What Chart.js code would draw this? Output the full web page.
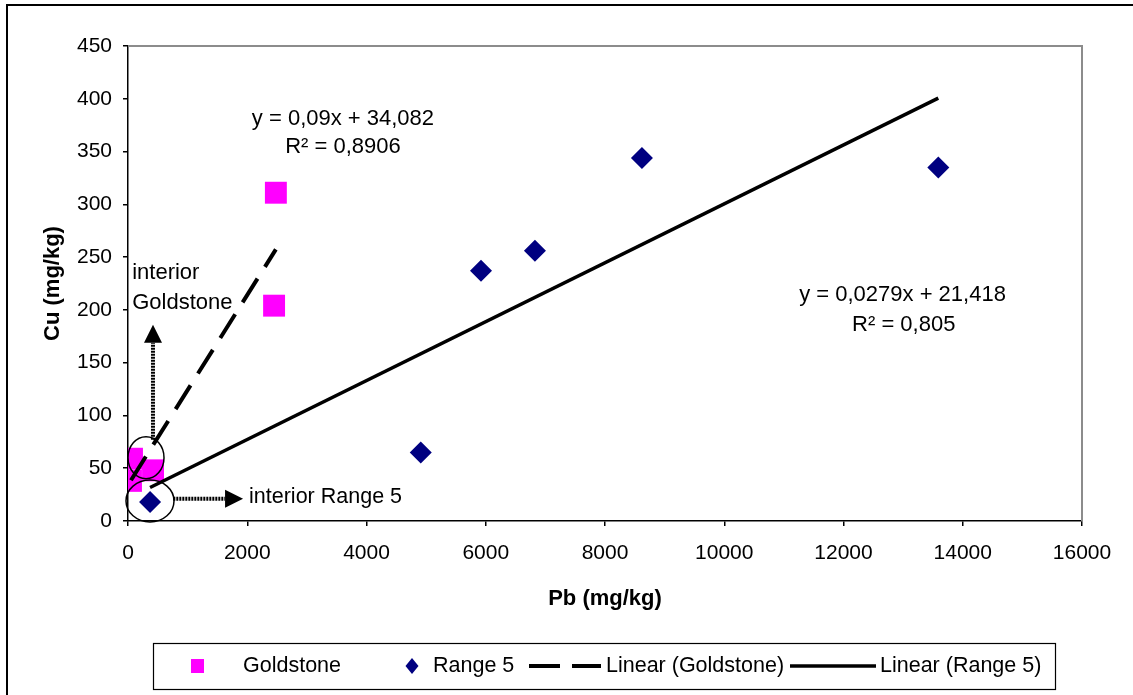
<!DOCTYPE html>
<html><head><meta charset="utf-8">
<script src="https://cdn.jsdelivr.net/npm/chart.js@4/dist/chart.umd.min.js"></script>
<style>html,body{margin:0;padding:0;background:#fff;}#wrap{width:1133px;height:695px;position:relative;}</style>
</head><body><div id="wrap"><canvas id="c" width="1133" height="695"></canvas></div>
<script>
// ---- data ----
const goldstonePb = [50, 67, 420, 2450, 2480];
const goldstoneCu = [38, 59, 48, 204, 311];
const range5Pb = [370, 4910, 5920, 6825, 8620, 13590];
const range5Cu = [18, 65, 237, 256, 344, 335];
const goldTrendPb = [50, 2480];
const goldTrendCu = [38.6, 257.3];
const rangeTrendPb = [370, 13590];
const rangeTrendCu = [31.7, 400.6];
const xTicks = [0, 2000, 4000, 6000, 8000, 10000, 12000, 14000, 16000];
const yTicks = [0, 50, 100, 150, 200, 250, 300, 350, 400, 450];
const seriesNames = ['Goldstone', 'Range 5', 'Linear (Goldstone)', 'Linear (Range 5)'];
const eqGold = ['y = 0,09x + 34,082', 'R\u00B2 = 0,8906'];
const eqRange = ['y = 0,0279x + 21,418', 'R\u00B2 = 0,805'];
const xTitle = 'Pb (mg/kg)';
const yTitle = 'Cu (mg/kg)';
const noteGold = ['interior', 'Goldstone'];
const noteRange = 'interior Range 5';

const FONT = "'Liberation Sans', Arial, sans-serif";
const pts = (xs, ys) => xs.map((x, i) => ({x: x, y: ys[i]}));

function arrow(ctx, x1, y1, x2, y2, headLen, headW) {
  const ang = Math.atan2(y2 - y1, x2 - x1);
  const bx = x2 - Math.cos(ang) * headLen, by = y2 - Math.sin(ang) * headLen;
  ctx.save();
  ctx.strokeStyle = '#000'; ctx.lineWidth = 4; ctx.setLineDash([2, 1]);
  ctx.beginPath(); ctx.moveTo(x1, y1); ctx.lineTo(bx, by); ctx.stroke();
  ctx.setLineDash([]);
  ctx.fillStyle = '#000';
  const px = -Math.sin(ang) * headW / 2, py = Math.cos(ang) * headW / 2;
  ctx.beginPath(); ctx.moveTo(x2, y2); ctx.lineTo(bx + px, by + py); ctx.lineTo(bx - px, by - py); ctx.closePath(); ctx.fill();
  ctx.restore();
}

const decor = {
  id: 'decor',
  afterDraw(chart) {
    const ctx = chart.ctx, ca = chart.chartArea;
    const sx = chart.scales.x, sy = chart.scales.y;
    const X = v => sx.getPixelForValue(v), Y = v => sy.getPixelForValue(v);
    ctx.save();
    // outer frame (cut at right/bottom)
    ctx.strokeStyle = '#000'; ctx.lineWidth = 2;
    ctx.beginPath(); ctx.moveTo(7, 695); ctx.lineTo(7, 5); ctx.lineTo(1133, 5); ctx.stroke();
    // plot area top/right border
    ctx.strokeStyle = '#8c8c8c'; ctx.lineWidth = 2;
    ctx.beginPath(); ctx.moveTo(ca.left, ca.top); ctx.lineTo(ca.right, ca.top); ctx.lineTo(ca.right, ca.bottom); ctx.stroke();

    // ellipses around interiors
    ctx.strokeStyle = '#000'; ctx.lineWidth = 1.5;
    ctx.beginPath(); ctx.ellipse(X(302), Y(60), 18, 21, 0, 0, Math.PI * 2); ctx.stroke();
    ctx.beginPath(); ctx.ellipse(X(369), Y(19), 24, 21, 0, 0, Math.PI * 2); ctx.stroke();

    // arrows
    arrow(ctx, X(419), Y(77), X(419), Y(186), 18, 18);
    arrow(ctx, X(760), Y(21), X(1930), Y(21), 18, 18);

    // texts
    ctx.fillStyle = '#000';
    ctx.font = '22px ' + FONT;
    ctx.textBaseline = 'middle';
    ctx.textAlign = 'left';
    ctx.fillText(noteGold[0], X(70), Y(235));
    ctx.fillText(noteGold[1], X(70), Y(207));
    ctx.font = '21.5px ' + FONT;
    ctx.fillText(noteRange, X(2030), Y(23));
    ctx.font = '22px ' + FONT;
    ctx.textAlign = 'center';
    ctx.fillText(eqGold[0], X(3605), Y(381));
    ctx.fillText(eqGold[1], X(3605), Y(354));
    ctx.fillText(eqRange[0], X(12990), Y(214));
    ctx.fillText(eqRange[1], X(13010), Y(186));

    // legend
    const ds = chart.data.datasets;
    ctx.strokeStyle = '#000'; ctx.lineWidth = 1.2;
    ctx.strokeRect(153.5, 643.5, 902, 46);
    const ly = 666;
    ctx.fillStyle = ds[0].backgroundColor;
    ctx.fillRect(191, ly - 7, 13, 14);
    ctx.fillStyle = ds[1].backgroundColor;
    ctx.beginPath(); ctx.moveTo(412, ly - 8); ctx.lineTo(418.5, ly); ctx.lineTo(412, ly + 8); ctx.lineTo(405.5, ly); ctx.closePath(); ctx.fill();
    ctx.strokeStyle = '#000';
    ctx.lineWidth = 4;
    ctx.beginPath(); ctx.moveTo(529, ly); ctx.lineTo(560, ly); ctx.moveTo(572, ly); ctx.lineTo(601, ly); ctx.stroke();
    ctx.lineWidth = 3.5;
    ctx.beginPath(); ctx.moveTo(790, ly); ctx.lineTo(876, ly); ctx.stroke();
    ctx.fillStyle = '#000';
    ctx.textAlign = 'left';
    ctx.font = '21.5px ' + FONT;
    ctx.fillText(seriesNames[0], 243, ly);
    ctx.fillText(seriesNames[1], 433, ly);
    ctx.fillText(seriesNames[2], 606, ly);
    ctx.fillText(seriesNames[3], 880, ly);
    ctx.restore();
  }
};

new Chart(document.getElementById('c'), {
  type: 'scatter',
  data: {
    datasets: [
      {label: seriesNames[0], data: pts(goldstonePb, goldstoneCu), pointStyle: 'rect', pointRadius: 15.5, pointHoverRadius: 15.5,
       backgroundColor: '#FF00FF', borderColor: '#FF00FF', borderWidth: 0, order: 2},
      {label: seriesNames[1], data: pts(range5Pb, range5Cu), pointStyle: 'rectRot', pointRadius: 11, pointHoverRadius: 11,
       backgroundColor: '#000080', borderColor: '#000080', borderWidth: 0, order: 2},
      {type: 'line', label: seriesNames[2], data: pts(goldTrendPb, goldTrendCu), borderColor: '#000', borderWidth: 4,
       borderDash: [28, 14], pointRadius: 0, fill: false, showLine: true, order: 1},
      {type: 'line', label: seriesNames[3], data: pts(rangeTrendPb, rangeTrendCu), borderColor: '#000', borderWidth: 3.5,
       pointRadius: 0, fill: false, showLine: true, order: 1}
    ]
  },
  options: {
    responsive: false,
    animation: false,
    events: [],
    layout: {padding: {left: 40, top: 46, right: 51, bottom: 83}},
    plugins: {legend: {display: false}, tooltip: {enabled: false}},
    scales: {
      x: {
        type: 'linear', min: 0, max: 16000,
        afterBuildTicks: s => { s.ticks = xTicks.map(v => ({value: v})); },
        afterFit: s => { s.height = 91; },
        ticks: {font: {family: FONT, size: 21}, color: '#000', padding: 15, maxRotation: 0, autoSkip: false, callback: v => String(v)},
        grid: {drawOnChartArea: false, drawTicks: true, tickLength: 5, color: '#000', lineWidth: 1.5},
        border: {color: '#000', width: 1.5},
        title: {display: true, text: xTitle, font: {family: FONT, size: 22, weight: 'bold'}, color: '#000', padding: 0}
      },
      y: {
        type: 'linear', min: 0, max: 450,
        afterBuildTicks: s => { s.ticks = yTicks.map(v => ({value: v})); },
        afterFit: s => { s.width = 88; },
        ticks: {font: {family: FONT, size: 21}, color: '#000', padding: 11, autoSkip: false, callback: v => String(v)},
        grid: {drawOnChartArea: false, drawTicks: true, tickLength: 5, color: '#000', lineWidth: 1.5},
        border: {color: '#000', width: 1.5},
        title: {display: true, text: yTitle, font: {family: FONT, size: 22, weight: 'bold'}, color: '#000', padding: 0}
      }
    }
  },
  plugins: [decor]
});
</script></body></html>
